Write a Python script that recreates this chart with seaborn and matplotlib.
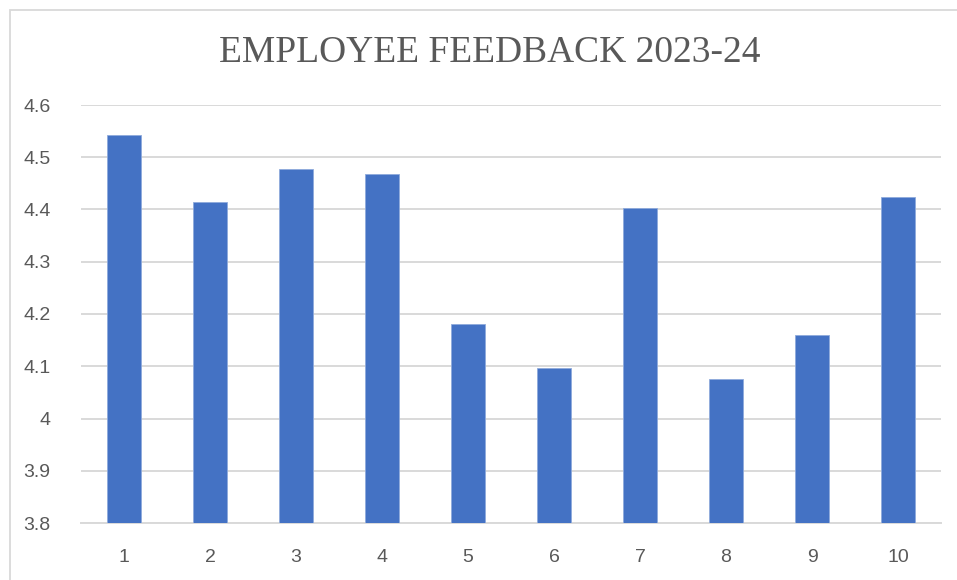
import matplotlib
matplotlib.use("Agg")
import matplotlib.pyplot as plt
from matplotlib.patches import Rectangle
import seaborn as sns
import pandas as pd

# values
categories = ["1", "2", "3", "4", "5", "6", "7", "8", "9", "10"]
scores = [4.542, 4.414, 4.478, 4.468, 4.181, 4.096, 4.403, 4.075, 4.159, 4.424]
y_ticks = [3.8, 3.9, 4.0, 4.1, 4.2, 4.3, 4.4, 4.5, 4.6]
y_tick_labels = ["3.8", "3.9", "4", "4.1", "4.2", "4.3", "4.4", "4.5", "4.6"]
title = "EMPLOYEE FEEDBACK 2023-24"

df = pd.DataFrame({"item": categories, "score": scores})

sns.set_theme(style="white")
plt.rcParams["font.family"] = ["Liberation Sans", "DejaVu Sans"]

text_color = "#595959"
grid_color = "#d9d9d9"

fig = plt.figure(figsize=(9.57, 5.8), dpi=100)
ax = fig.add_axes([81 / 957, 1 - 523 / 580, 860 / 957, 418 / 580])

# light chart frame like the spreadsheet export
fig.patches.append(Rectangle((10 / 957, -0.05), 1.1, 1 - 10 / 580 + 0.05,
                             transform=fig.transFigure, fill=False,
                             edgecolor=grid_color, linewidth=1.3, zorder=0))

sns.barplot(data=df, x="item", y="score", ax=ax, color="#4472C4", saturation=1,
            width=0.4, edgecolor="#8faadc", linewidth=0.6, zorder=3)

ax.set_ylim(3.8, 4.6)
ax.set_yticks(y_ticks)
ax.set_yticklabels(y_tick_labels)
ax.set_xlim(-0.5, len(categories) - 0.5)
ax.yaxis.grid(True, color=grid_color, linewidth=1.4, zorder=0)
ax.set_axisbelow(True)
for side in ["top", "right", "left"]:
    ax.spines[side].set_visible(False)
ax.spines["bottom"].set_color(grid_color)
ax.spines["bottom"].set_linewidth(1.4)

ax.set_xlabel("")
ax.set_ylabel("")
ax.tick_params(axis="both", length=0, labelsize=14, labelcolor=text_color)
ax.tick_params(axis="y", pad=22)
ax.tick_params(axis="x", pad=19)

fig.text(490 / 957, 1 - 53 / 580, title, ha="center", va="center",
         fontsize=27, color=text_color, family=["Liberation Serif", "DejaVu Serif"])

fig.savefig("out.png", dpi=100)
